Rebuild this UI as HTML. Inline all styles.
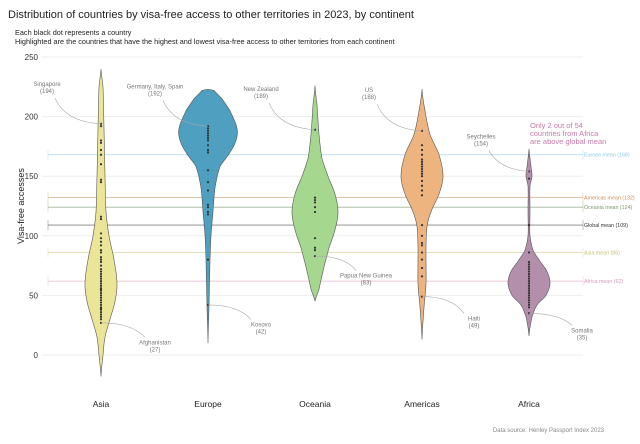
<!DOCTYPE html>
<html><head><meta charset="utf-8"><style>
body{margin:0;background:#fff;font-family:"Liberation Sans",sans-serif;}
svg text{font-family:"Liberation Sans",sans-serif;}
</style></head><body>
<svg id="c" width="640" height="439" viewBox="0 0 640 439">
<text x="8" y="18" font-size="11" fill="#222">Distribution of countries by visa-free access to other territories in 2023, by continent</text>
<text x="15" y="35" font-size="7.3" fill="#222">Each black dot represents a country</text>
<text x="15" y="44" font-size="7.3" fill="#222">Highlighted are the countries that have the highest and lowest visa-free access to other territories from each continent</text>
<text transform="translate(24,206) rotate(-90)" text-anchor="middle" font-size="9" fill="#222">Visa-free accesses</text>
<text x="604" y="432" text-anchor="end" font-size="6" fill="#888">Data source: Henley Passport Index 2023</text>
<g id="grid"></g><g id="means"></g><g id="violins"></g><g id="ann"></g>
</svg>
<script>
const categories=["Asia","Europe","Oceania","Americas","Africa"];
const colors=["#ebe597","#4f9fc0","#a5d78f","#edb480","#b48fab"];
const yTicks=[0,50,100,150,200,250];
const asiaDots=[194,192,180,178,172,168,160,147,145,116,114,102,98,95,92,88,86,82,80,78,75,72,70,68,66,64,62,60,58,56,55,54,52,50,48,46,44,42,40,39,38,36,34,32,30,27];
const europeDots=[192,190,188,186,184,182,180,176,172,170,155,145,138,126,124,120,118,80,42];
const oceaniaDots=[189,132,130,128,124,120,98,90,88,83];
const americasDots=[188,176,172,168,164,162,160,158,156,154,152,150,146,142,138,134,109,100,94,92,86,80,73,66,49];
const africaDots=[154,148,109,86,78,76,74,72,70,68,66,64,62,60,58,56,54,52,50,48,46,44,42,40,35];
const asiaProfile=[[240,0],[225,2],[190,3],[150,4],[120,5],[100,8],[80,13],[60,16],[45,14],[30,9],[15,4],[0,2],[-18,0]];
const europeProfile=[[223,0],[222,6],[215,14],[205,22],[190,29],[180,28],[170,22],[158,12],[140,7],[120,5],[100,3],[80,2],[40,1],[10,0]];
const oceaniaProfile=[[226,0],[210,2],[185,4],[165,7],[150,13],[135,20],[120,23],[105,20],[90,14],[70,8],[55,4],[45,0]];
const americasProfile=[[223,0],[205,3],[185,8],[168,17],[150,21],[135,17],[120,9],[108,5],[90,4],[60,4],[40,2],[13,0]];
const africaProfile=[[173,0],[165,1],[158,2],[150,3],[142,1],[120,1],[100,1],[88,4],[80,10],[70,18],[60,21],[50,17],[42,8],[32,3],[16,0]];
const dots=[asiaDots,europeDots,oceaniaDots,americasDots,africaDots];
const profiles=[asiaProfile,europeProfile,oceaniaProfile,americasProfile,africaProfile];
const meanNames=["Europe mean","Americas mean","Oceania mean","Global mean","Asia mean","Africa mean"];
const meanValues=[168,132,124,109,86,62];
const meanColors=["#8cc8e6","#c9915c","#7e9a6e","#333","#c8c17a","#d69ab8"];
const annNames=["Singapore","Afghanistan","Germany, Italy, Spain","Kosovo","New Zealand","Papua New Guinea","US","Haiti","Seychelles","Somalia"];
const annValues=[194,27,192,42,189,83,188,49,154,35];
const annCat=[0,0,1,1,2,2,3,3,4,4];
const annLabelVal=[224,14,222,29,220,70,219,34,180,24];
const annDx=[-54,54,-53,53,-54,51,-53,52,-48,53];

const NS="http://www.w3.org/2000/svg";
const y=v=>355-v*(298/250);
const x=i=>101+i*107;
function mk(t,p,a){const e=document.createElementNS(NS,t);for(const k in a)e.setAttribute(k,a[k]);p.appendChild(e);return e;}
const grid=document.getElementById('grid'),means=document.getElementById('means'),vg=document.getElementById('violins'),ann=document.getElementById('ann');
yTicks.forEach(t=>{
 const l=mk('line',grid,{x1:42,x2:583,y1:y(t),y2:y(t),stroke:'#eee','stroke-width':1});
 
 const tx=mk('text',grid,{x:38,y:y(t)+3,'text-anchor':'end','font-size':8,fill:'#333'});tx.textContent=t;
 
});
categories.forEach((c,i)=>{
 const tx=mk('text',grid,{x:x(i),y:407,'text-anchor':'middle','font-size':8.5,fill:'#222'});tx.textContent=c;
 
});
meanValues.forEach((m,i)=>{
 const l=mk('line',means,{x1:48,x2:583,y1:y(m),y2:y(m),stroke:meanColors[i],'stroke-width':0.8,opacity:i==3?0.6:0.7});
 
 mk('line',means,{x1:48,x2:48,y1:y(m)-5,y2:y(m)+5,stroke:meanColors[i],'stroke-width':0.6,opacity:0.5});
 mk('line',means,{x1:583,x2:583,y1:y(m)-5,y2:y(m)+5,stroke:meanColors[i],'stroke-width':0.6,opacity:0.5});
 const tx=mk('text',means,{x:584,y:y(m)+2,'font-size':5.3,fill:meanColors[i]});tx.textContent=meanNames[i]+' ('+m+')';
 
});
function sample(p){
 const out=[];
 for(let k=0;k<p.length-1;k++){
  const p0=p[Math.max(k-1,0)],p1=p[k],p2=p[k+1],p3=p[Math.min(k+2,p.length-1)];
  for(let s=0;s<12;s++){
   const t=s/12,t2=t*t,t3=t2*t;
   const f=(a,b,c,d)=>0.5*(2*b+(-a+c)*t+(2*a-5*b+4*c-d)*t2+(-a+3*b-3*c+d)*t3);
   out.push([p1[0]+(p2[0]-p1[0])*t,Math.max(0,f(p0[1],p1[1],p2[1],p3[1]))]);
  }
 }
 out.push(p[p.length-1]);return out;
}
profiles.forEach((p,i)=>{
 const s=sample(p);
 const right=s.map(q=>[x(i)+q[1],y(q[0])]);
 const left=s.slice().reverse().map(q=>[x(i)-q[1],y(q[0])]);
 const all=right.concat(left);
 const d='M'+all.map(q=>q[0].toFixed(2)+','+q[1].toFixed(2)).join(' L')+'Z';
 const path=mk('path',vg,{d:d,fill:colors[i],stroke:'#555','stroke-width':0.6});
 
 dots[i].forEach(v=>{
  const c=mk('circle',vg,{cx:x(i),cy:y(v),r:1.1,fill:'#333'});
  
 });
});
annNames.forEach((n,i)=>{
 const cx=x(annCat[i]),cy=y(annValues[i]),lx=cx+annDx[i],ly=y(annLabelVal[i]);
 const up=annLabelVal[i]>annValues[i];
 let ex,ey,d;
 if(up){ex=lx+8;ey=ly+10;d=`M${cx},${cy} Q${lx+18},${cy-2} ${ex},${ey}`;}
 else{ex=lx-10;ey=ly-1;d=`M${cx},${cy} Q${cx+30},${cy} ${ex},${ey}`;}
 mk('path',ann,{d:d,fill:'none',stroke:'#aaa','stroke-width':0.6});
 const t=mk('text',ann,{x:lx,y:up?ly-2:ly+6,'text-anchor':'middle','font-size':6,fill:'#777'});
 
 const a=mk('tspan',t,{x:lx});a.textContent=n;
 const b=mk('tspan',t,{x:lx,dy:7});b.textContent='('+annValues[i]+')';
});
const note=mk('text',ann,{x:530,y:128,'font-size':7.5,fill:'#c87aaa'});

["Only 2 out of 54","countries from Africa","are above global mean"].forEach((s,k)=>{const t=mk('tspan',note,{x:530,dy:k?8:0});t.textContent=s;});
</script>
</body></html>
